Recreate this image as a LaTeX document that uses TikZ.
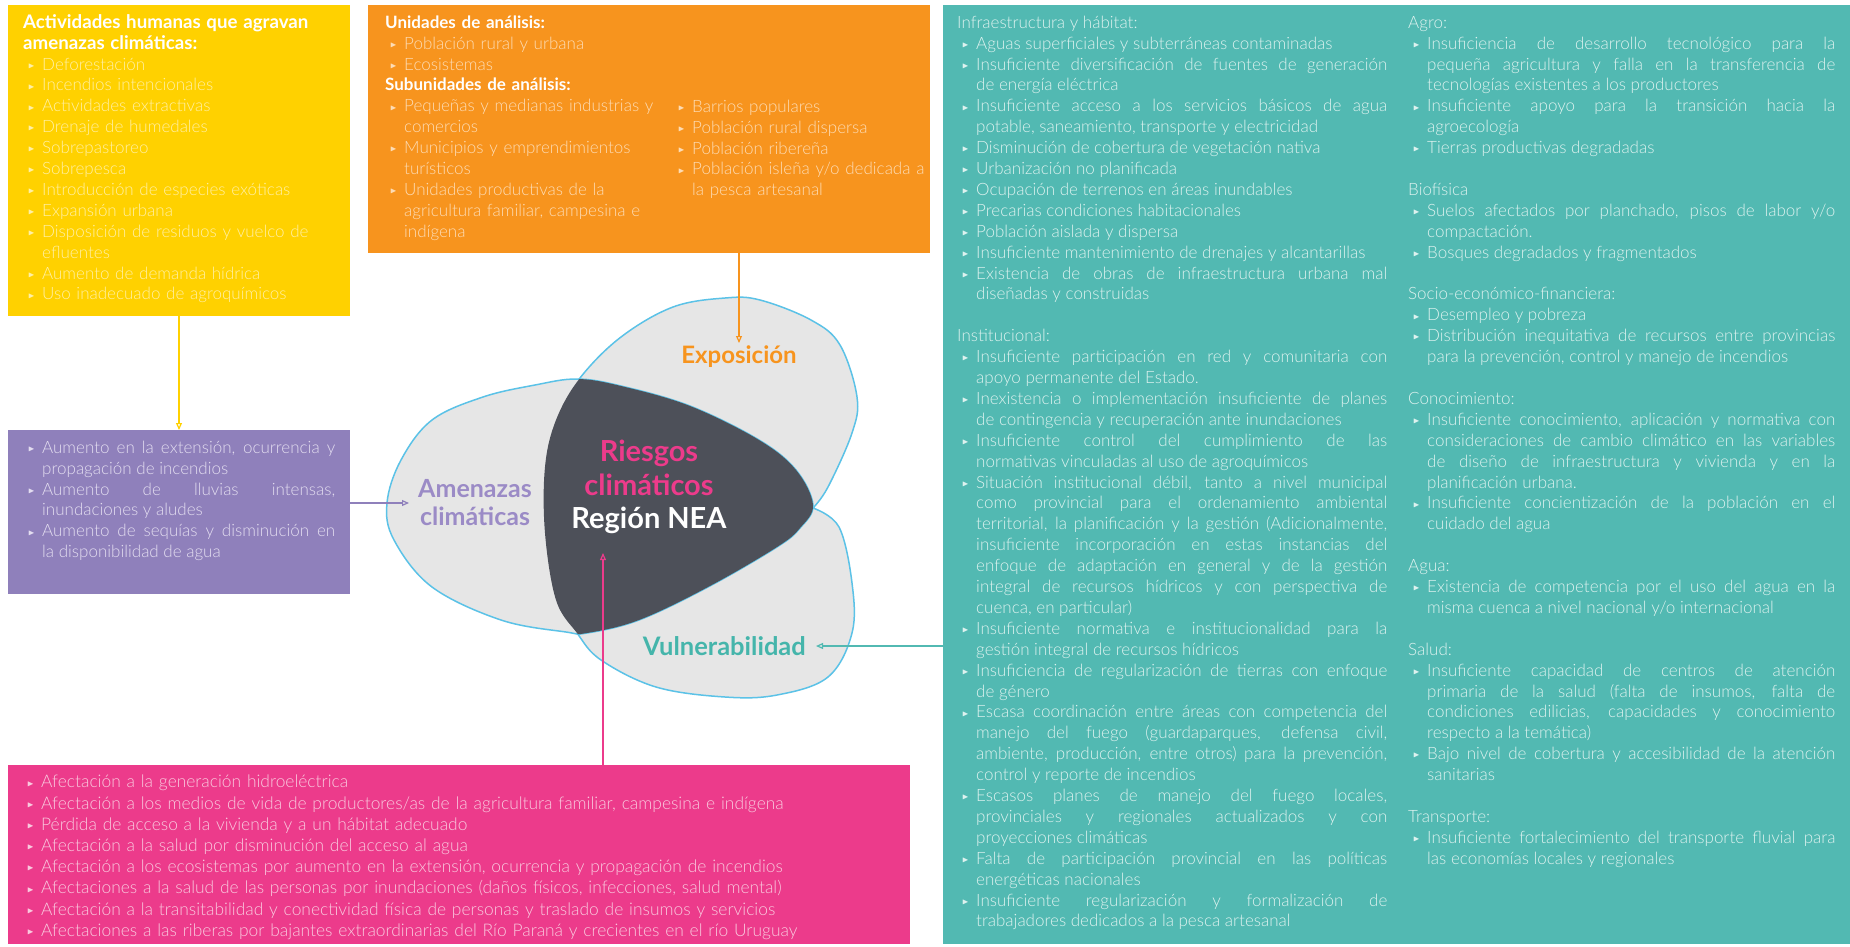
\documentclass[tikz,border=0pt]{standalone}
\usepackage{fontspec}
\usepackage{amssymb}
\usepackage{graphicx}
\setmainfont{Lato}[UprightFont=* Light, BoldFont=* Bold]
\usetikzlibrary{arrows.meta}

% colores
\definecolor{amarillo}{HTML}{FFD100}
\definecolor{naranja}{HTML}{F7941E}
\definecolor{violeta}{HTML}{8F80BB}
\definecolor{rosa}{HTML}{EC3B8B}
\definecolor{verdeagua}{HTML}{52B9B2}
\definecolor{grisclaro}{HTML}{E6E6E6}
\definecolor{celeste}{HTML}{5BC2E7}
\definecolor{grisoscuro}{HTML}{4D5059}
\definecolor{txtamarillo}{HTML}{FFF0A6}
\definecolor{txtnaranja}{HTML}{FDDCB5}
\definecolor{txtvioleta}{HTML}{E3DDF0}
\definecolor{txtrosa}{HTML}{F9C9DE}
\definecolor{txtverde}{HTML}{DDF2EF}
\definecolor{lblvioleta}{HTML}{9B8BC6}
\definecolor{lblverde}{HTML}{45B5AB}

% vineta e item con sangria colgante
\newcommand{\bul}{\raisebox{1.8pt}{\scalebox{0.5}{$\blacktriangleright$}}}
\newcommand{\itm}{\par\noindent\hangindent=19pt\hangafter=1\makebox[19pt][l]{\hspace{5pt}\bul}\strut}
\newcommand{\titulo}[1]{{\color{white}\bfseries #1}}

\tikzset{
  caja/.style={anchor=north west, inner sep=0pt, outer sep=0pt},
  lista/.style={anchor=north west, inner sep=0pt, text width=#1pt,
    font=\fontsize{17}{20.9}\selectfont},
  etiqueta/.style={inner sep=2pt, font=\bfseries\fontsize{24}{28}\selectfont},
  flecha/.style={line width=1.2pt, -{Triangle[open, length=7pt, width=6pt]}}
}

\begin{document}
\begin{tikzpicture}[x=1pt, y=-1pt]
  \fill[white] (0,0) rectangle (1850,946);
  \useasboundingbox (0,0) rectangle (1850,946);

  % cajas de color
  \node[caja, fill=amarillo, minimum width=342pt, minimum height=311pt] (humanas) at (8,5) {};
  \node[caja, fill=naranja, minimum width=562pt, minimum height=248pt] (unidades) at (368,5) {};
  \node[caja, fill=violeta, minimum width=342pt, minimum height=164pt] (amenazas) at (8,430) {};
  \node[caja, fill=rosa, minimum width=902pt, minimum height=179pt] (impactos) at (8,765) {};
  \node[caja, fill=verdeagua, minimum width=907pt, minimum height=939pt] (vulnerab) at (943,5) {};

  % actividades humanas
  \node[lista=325, align=left, text=txtamarillo] (txthum) at (23,13.4) {\noindent\strut
    {\fontsize{18.7}{20.9}\selectfont\titulo{Actividades humanas que agravan\newline amenazas climáticas:}}
    \itm Deforestación
    \itm Incendios intencionales
    \itm Actividades extractivas
    \itm Drenaje de humedales
    \itm Sobrepastoreo
    \itm Sobrepesca
    \itm Introducción de especies exóticas
    \itm Expansión urbana
    \itm Disposición de residuos y vuelco de\newline efluentes
    \itm Aumento de demanda hídrica
    \itm Uso inadecuado de agroquímicos\par};

  % unidades de analisis
  \node[lista=290, align=left, text=txtnaranja] (txtuni) at (385,13.4) {\noindent\strut
    \titulo{Unidades de análisis:}
    \itm Población rural y urbana
    \itm Ecosistemas
    \par\noindent\titulo{Subunidades de análisis:}
    \itm Pequeñas y medianas industrias y\newline comercios
    \itm Municipios y emprendimientos\newline turísticos
    \itm Unidades productivas de la\newline agricultura familiar, campesina e\newline indígena\par};
  \node[lista=265, align=left, text=txtnaranja] (txtsub) at (673,91.1) {%
    \itm Barrios populares
    \itm Población rural dispersa
    \itm Población ribereña
    \itm Población isleña y/o dedicada a\newline la pesca artesanal\par};

  % amenazas
  \node[lista=312, align=justify, text=txtvioleta] (txtame) at (23,432.1) {%
    \itm Aumento en la extensión, ocurrencia y\linebreak propagación de incendios
    \itm Aumento de lluvias intensas,\linebreak inundaciones y aludes
    \itm Aumento de sequías y disminución en\linebreak la disponibilidad de agua\par};

  % impactos
  \node[lista=880, align=left, text=txtrosa, font=\fontsize{17.4}{21.2}\selectfont] (txtimp) at (22,766.5) {%
    \itm Afectación a la generación hidroeléctrica
    \itm Afectación a los medios de vida de productores/as de la agricultura familiar, campesina e indígena
    \itm Pérdida de acceso a la vivienda y a un hábitat adecuado
    \itm Afectación a la salud por disminución del acceso al agua
    \itm Afectación a los ecosistemas por aumento en la extensión, ocurrencia y propagación de incendios
    \itm Afectaciones a la salud de las personas por inundaciones (daños físicos, infecciones, salud mental)
    \itm Afectación a la transitabilidad y conectividad física de personas y traslado de insumos y servicios
    \itm Afectaciones a las riberas por bajantes extraordinarias del Río Paraná y crecientes en el río Uruguay\par};

  % vulnerabilidad, primera columna
  \node[lista=430, align=justify, text=txtverde] (txtinf) at (957,13.4) {\noindent\strut Infraestructura y hábitat:
    \itm Aguas superficiales y subterráneas contaminadas
    \itm Insuficiente diversificación de fuentes de generación\linebreak de energía eléctrica
    \itm Insuficiente acceso a los servicios básicos de agua\linebreak potable, saneamiento, transporte y electricidad
    \itm Disminución de cobertura de vegetación nativa
    \itm Urbanización no planificada
    \itm Ocupación de terrenos en áreas inundables
    \itm Precarias condiciones habitacionales
    \itm Población aislada y dispersa
    \itm Insuficiente mantenimiento de drenajes y alcantarillas
    \itm Existencia de obras de infraestructura urbana mal\linebreak diseñadas y construidas
    \par\vspace{20.9pt}\noindent Institucional:
    \itm Insuficiente participación en red y comunitaria con\linebreak apoyo permanente del Estado.
    \itm Inexistencia o implementación insuficiente de planes\linebreak de contingencia y recuperación ante inundaciones
    \itm Insuficiente control del cumplimiento de las\linebreak normativas vinculadas al uso de agroquímicos
    \itm Situación institucional débil, tanto a nivel municipal\linebreak como provincial para el ordenamiento ambiental\linebreak territorial, la planificación y la gestión (Adicionalmente,\linebreak insuficiente incorporación en estas instancias del\linebreak enfoque de adaptación en general y de la gestión\linebreak integral de recursos hídricos y con perspectiva de\linebreak cuenca, en particular)
    \itm Insuficiente normativa e institucionalidad para la\linebreak gestión integral de recursos hídricos
    \itm Insuficiencia de regularización de tierras con enfoque\linebreak de género
    \itm Escasa coordinación entre áreas con competencia del\linebreak manejo del fuego (guardaparques, defensa civil,\linebreak ambiente, producción, entre otros) para la prevención,\linebreak control y reporte de incendios
    \itm Escasos planes de manejo del fuego locales,\linebreak provinciales y regionales actualizados y con\linebreak proyecciones climáticas
    \itm Falta de participación provincial en las políticas\linebreak energéticas nacionales
    \itm Insuficiente regularización y formalización de\linebreak trabajadores dedicados a la pesca artesanal\par};

  % vulnerabilidad, segunda columna
  \node[lista=427, align=justify, text=txtverde] (txtagro) at (1408,13.4) {\noindent\strut Agro:
    \itm Insuficiencia de desarrollo tecnológico para la\linebreak pequeña agricultura y falla en la transferencia de\linebreak tecnologías existentes a los productores
    \itm Insuficiente apoyo para la transición hacia la\linebreak agroecología
    \itm Tierras productivas degradadas
    \par\vspace{20.9pt}\noindent Biofísica
    \itm Suelos afectados por planchado, pisos de labor y/o\linebreak compactación.
    \itm Bosques degradados y fragmentados
    \par\vspace{20.9pt}\noindent Socio-económico-financiera:
    \itm Desempleo y pobreza
    \itm Distribución inequitativa de recursos entre provincias\linebreak para la prevención, control y manejo de incendios
    \par\vspace{20.9pt}\noindent Conocimiento:
    \itm Insuficiente conocimiento, aplicación y normativa con\linebreak consideraciones de cambio climático en las variables\linebreak de diseño de infraestructura y vivienda y en la\linebreak planificación urbana.
    \itm Insuficiente concientización de la población en el\linebreak cuidado del agua
    \par\vspace{20.9pt}\noindent Agua:
    \itm Existencia de competencia por el uso del agua en la\linebreak misma cuenca a nivel nacional y/o internacional
    \par\vspace{20.9pt}\noindent Salud:
    \itm Insuficiente capacidad de centros de atención\linebreak primaria de la salud (falta de insumos, falta de\linebreak condiciones edilicias, capacidades y conocimiento\linebreak respecto a la temática)
    \itm Bajo nivel de cobertura y accesibilidad de la atención\linebreak sanitarias
    \par\vspace{20.9pt}\noindent Transporte:
    \itm Insuficiente fortalecimiento del transporte fluvial para\linebreak las economías locales y regionales\par};

  % lobulos del diagrama
  \def\lobulos{plot[smooth, tension=0.6] coordinates {(813,508) (828,487) (852,433) (857,397) (840,345) (811,320) (760,300) (725,298) (673,307) (621,337) (580,378) (556,420) (545,467) (545,533) (556,600) (577,633) (601,660) (656,687) (725,697) (777,695) (828,677) (852,633) (852,583) (839,527) (813,508)} -- cycle}
  \def\amenaza{plot[smooth cycle, tension=0.6] coordinates {(387,503) (401,460) (432,420) (483,397) (535,385) (577,379) (621,386) (690,406) (759,440) (796,470) (813,505) (800,528) (777,547) (708,587) (639,620) (587,633) (566,632) (501,620) (432,587) (394,540)}}
  \filldraw[fill=grisclaro, draw=celeste, line width=1.5pt] \lobulos;
  \filldraw[fill=grisclaro, draw=celeste, line width=1.5pt] \amenaza;
  \begin{scope}
    \clip \amenaza;
    \fill[grisoscuro] \lobulos;
  \end{scope}

  % etiquetas
  \node[etiqueta, text=naranja, anchor=north] (expo) at (739,343) {Exposición};
  \node[etiqueta, text=lblvioleta, align=center, anchor=west, inner xsep=9pt, font=\bfseries\fontsize{25}{28}\selectfont] (amzlbl) at (409,503) {Amenazas\\climáticas};
  \node[etiqueta, text=lblverde, anchor=east, inner xsep=10pt, font=\bfseries\fontsize{25.5}{28}\selectfont] (vullbl) at (816,646) {Vulnerabilidad};
  \node[etiqueta, text=white, align=center, font=\bfseries\fontsize{29}{33.5}\selectfont] (riesgo) at (649,487) {{\color{rosa}Riesgos}\\{\color{rosa}climáticos}\\Región NEA};
  \coordinate (riesgopt) at (603,553);

  % flechas
  \draw[flecha, amarillo] (humanas.south) -- (amenazas.north);
  \draw[flecha, naranja] (unidades.south -| expo.north) -- (expo.north);
  \draw[flecha, violeta] (amzlbl.west -| amenazas.east) -- (amzlbl.west);
  \draw[flecha, verdeagua] (vullbl.east -| vulnerab.west) -- (vullbl.east);
  \draw[flecha, rosa] (impactos.north -| riesgopt) -- (riesgopt);
\end{tikzpicture}
\end{document}
